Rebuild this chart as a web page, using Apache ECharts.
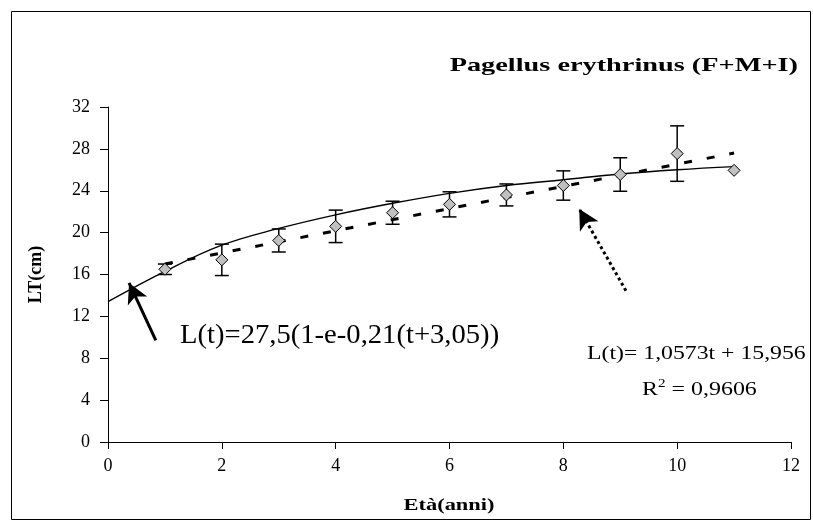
<!DOCTYPE html>
<html>
<head>
<meta charset="utf-8">
<script src="https://cdn.jsdelivr.net/npm/echarts@6/dist/echarts.min.js"></script>
<style>html,body{margin:0;padding:0;background:#fff}#c{width:813px;height:525px}</style>
</head>
<body>
<div id="c"></div>
<script>
// ---- data ----
var ages = [1, 2, 3, 4, 5, 6, 7, 8, 9, 10, 11];
var meanLT = [16.5, 17.4, 19.25, 20.6, 21.9, 22.7, 23.6, 24.5, 25.55, 27.55, 25.95];
var errLT = [0.5, 1.5, 1.1, 1.55, 1.1, 1.2, 1.05, 1.4, 1.6, 2.65, 0];
var vbAges = [0, 1, 2, 3, 4, 5, 6, 7, 8, 9, 10, 11];
var vbCurve = [13.4, 16.3, 18.8, 20.4, 21.7, 22.8, 23.75, 24.5, 25.05, 25.6, 26.0, 26.3];
var trendAges = [1, 11];
var trendVals = [17.0, 27.6];
var arrowSolid = [[0.84, 9.7], [0.37, 15.2]];
var arrowDotted = [[9.1, 14.45], [8.28, 22.25]];
var titleText = 'Pagellus erythrinus (F+M+I)';
var xName = 'Età(anni)';
var yName = 'LT(cm)';
var eqVB = 'L(t)=27,5(1-e-0,21(t+3,05))';
var eqLin = 'L(t)= 1,0573t + 15,956';
var eqR2 = '0,9606';

var serif = '"Liberation Serif", "DejaVu Serif", serif';
var chart = echarts.init(document.getElementById('c'), null, {renderer: 'canvas'});

var points = ages.map(function (a, i) { return [a, meanLT[i]]; });
var bars = [];
ages.forEach(function (a, i) { if (errLT[i] > 0) bars.push([a, meanLT[i] - errLT[i], meanLT[i] + errLT[i]]); });
var curve = vbAges.map(function (a, i) { return [a, vbCurve[i]]; });
var trend = trendAges.map(function (a, i) { return [a, trendVals[i]]; });

var option = {
  animation: false,
  backgroundColor: '#fff',
  grid: {left: 108, right: 22, top: 107, bottom: 83},
  xAxis: {
    type: 'value', min: 0, max: 12, interval: 2,
    axisLine: {show: true, lineStyle: {color: '#000', width: 1}},
    axisTick: {show: true, inside: false, length: 7, lineStyle: {color: '#000'}},
    axisLabel: {fontFamily: serif, fontSize: 18, color: '#000', margin: 15},
    splitLine: {show: false}
  },
  yAxis: {
    type: 'value', min: 0, max: 32, interval: 4,
    name: yName, nameLocation: 'middle', nameGap: 63, nameRotate: 90,
    nameTextStyle: {fontFamily: serif, fontWeight: 'bold', fontSize: 18, color: '#000'},
    axisLine: {show: true, lineStyle: {color: '#000', width: 1}},
    axisTick: {show: true, inside: false, length: 8, lineStyle: {color: '#000'}},
    axisLabel: {fontFamily: serif, fontSize: 18, color: '#000', margin: 18},
    splitLine: {show: false}
  },
  series: [
    {
      type: 'line', data: curve, smooth: 0.4, symbol: 'none', z: 2,
      lineStyle: {color: '#000', width: 1.4},
      markLine: {
        silent: true, symbol: ['none', 'arrow'], symbolSize: [16, 20], label: {show: false},
        animation: false,
        data: [
          [{coord: arrowSolid[0], lineStyle: {color: '#000', width: 3, type: 'solid'}},
           {coord: arrowSolid[1]}],
          [{coord: arrowDotted[0], lineStyle: {color: '#000', width: 3, type: [3, 3]}},
           {coord: arrowDotted[1]}]
        ]
      }
    },
    {
      type: 'line', data: trend, symbol: 'none', z: 4,
      lineStyle: {color: '#000', width: 3, type: [8, 15]}
    },
    {
      type: 'custom', data: bars, z: 3,
      renderItem: function (params, api) {
        var x = api.value(0);
        var lo = api.coord([x, api.value(1)]);
        var hi = api.coord([x, api.value(2)]);
        var hw = 7;
        var st = {stroke: '#000', lineWidth: 1.5};
        return {type: 'group', children: [
          {type: 'line', shape: {x1: lo[0], y1: lo[1], x2: hi[0], y2: hi[1]}, style: st},
          {type: 'line', shape: {x1: lo[0] - hw, y1: lo[1], x2: lo[0] + hw, y2: lo[1]}, style: st},
          {type: 'line', shape: {x1: hi[0] - hw, y1: hi[1], x2: hi[0] + hw, y2: hi[1]}, style: st}
        ]};
      }
    },
    {
      type: 'scatter', data: points, symbol: 'diamond', symbolSize: [12, 12], z: 5,
      itemStyle: {color: '#c0c0c0', borderColor: '#000', borderWidth: 1, opacity: 1}
    }
  ],
  graphic: [
    {type: 'rect', x: 11.5, y: 11.5, shape: {width: 799, height: 508},
     style: {fill: 'none', stroke: '#000', lineWidth: 1}, silent: true},
    {type: 'text', x: 798, y: 66, scaleX: 1.49,
     style: {text: titleText, font: 'bold 19px ' + serif, fill: '#000', textAlign: 'right', textVerticalAlign: 'middle'}},
    {type: 'text', x: 449, y: 506, scaleX: 1.4,
     style: {text: xName, font: 'bold 16px ' + serif, fill: '#000', textAlign: 'center', textVerticalAlign: 'middle'}},
    {type: 'text', x: 180, y: 336, scaleX: 1.06,
     style: {text: eqVB, font: '27px ' + serif, fill: '#000', textAlign: 'left', textVerticalAlign: 'middle'}},
    {type: 'text', x: 587, y: 354, scaleX: 1.25,
     style: {text: eqLin, font: '19px ' + serif, fill: '#000', textAlign: 'left', textVerticalAlign: 'middle'}},
    {type: 'text', x: 642, y: 378, scaleX: 1.26,
     style: {
       text: '{a|R}{s|2}{a| = ' + eqR2 + '}',
       rich: {
         a: {font: '19px ' + serif, color: '#000', verticalAlign: 'bottom'},
         s: {font: '12px ' + serif, color: '#000', verticalAlign: 'top', padding: [0, 0, 10, 0]}
       }
     }}
  ]
};
chart.setOption(option);
</script>
</body>
</html>
